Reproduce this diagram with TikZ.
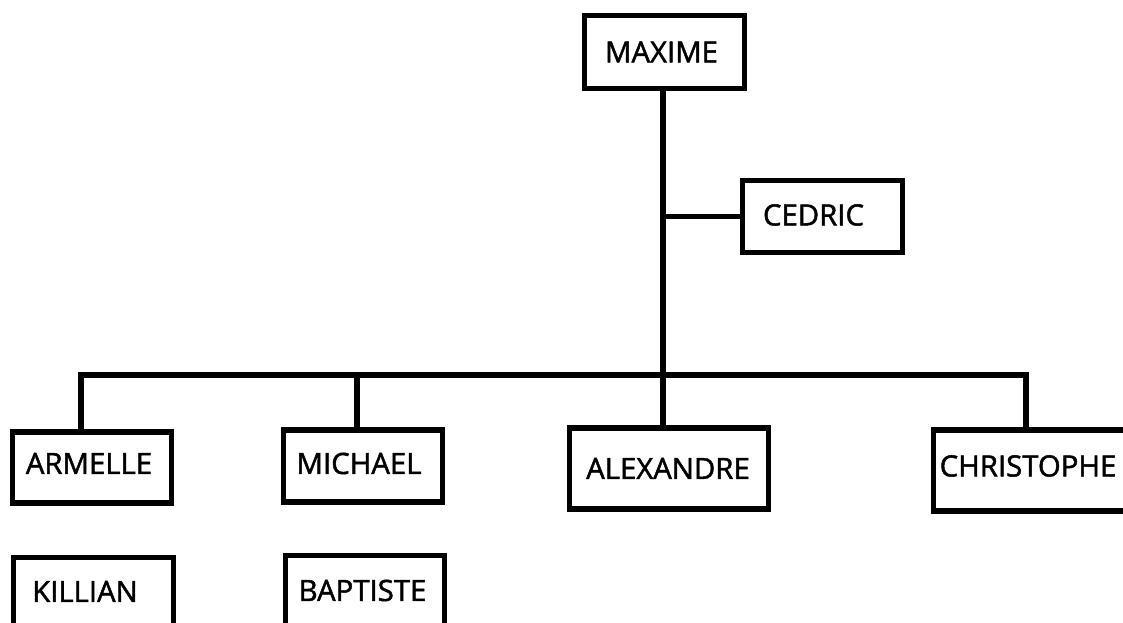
\documentclass[tikz,border=0pt]{standalone}
\usepackage{fontspec}
\setmainfont{Open Sans}[FakeBold=1.6]
\newcommand\shtext[3]{\kern#1pt\raisebox{#2pt}[0pt][0pt]{#3}\kern-#1pt}
\tikzset{
  person/.style={draw, rectangle, line width=4.1pt, inner sep=0pt,
    text height=15.7pt, text depth=0pt, font=\fontsize{22pt}{26pt}\selectfont},
  bw/.style={minimum width=#1*0.75pt},
  bh/.style={minimum height=#1*0.75pt},
  link/.style={line width=4.1pt, line join=miter}
}
\begin{document}
\begin{tikzpicture}[x=0.75pt, y=-0.75pt]
\path[use as bounding box, clip] (0,0) rectangle (1123,623);
\fill[white] (0,0) rectangle (1123,623);
\node[person, bw=160, bh=73] (maxime) at (664.5,52) {\shtext{-2.25}{0}{MAXIME}};
\node[person, bw=160, bh=72] (cedric) at (822.5,216.5) {\shtext{-6.75}{1.125}{CEDRIC}};
\node[person, bw=159, bh=71] (armelle) at (92,467.5) {\shtext{-2.25}{3}{ARMELLE}};
\node[person, bw=159, bh=72] (michael) at (363,466) {\shtext{-3}{1.875}{MICHAEL}};
\node[person, bw=199, bh=81] (alexandre) at (669,468.5) {\shtext{-0.75}{0}{ALEXANDRE}};
\node[person, bw=192.5, bh=81] (christophe) at (1029.75,470.5) {\shtext{-1.3}{3.375}{CHRISTOPHE}};
\node[person, bw=159.5, bh=73] (killian) at (93.5,594) {\shtext{-6.375}{1.875}{KILLIAN}};
\node[person, bw=159, bh=73] (baptiste) at (365,592) {\shtext{-1.875}{1.125}{BAPTISTE}};
\coordinate (tj) at (663,375);
\coordinate (ta) at (81,375);
\coordinate (tm) at (357,375);
\coordinate (tc) at (1026,375);
\draw[link] (tj |- maxime.south) -- (tj) -- (tj |- alexandre.north);
\draw[link] (tj |- cedric.west) -- (cedric.west);
\draw[link] (ta |- armelle.north) -- (ta) -- (tc) -- (tc |- christophe.north);
\draw[link] (tm) -- (tm |- michael.north);
\end{tikzpicture}
\end{document}
